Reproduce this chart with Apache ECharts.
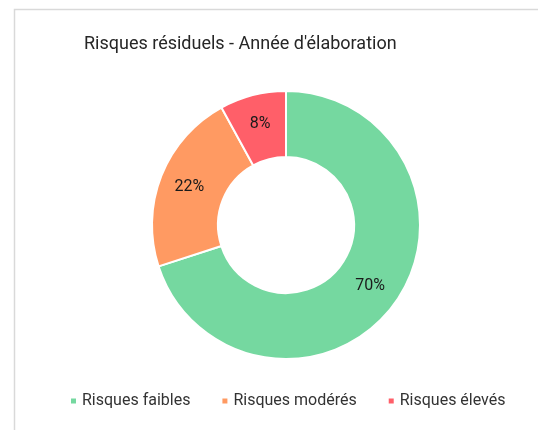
<!DOCTYPE html>
<html>
<head>
<meta charset="utf-8">
<script src="https://cdn.jsdelivr.net/npm/echarts@6/dist/echarts.min.js"></script>
<style>
  html, body { margin: 0; padding: 0; background: #fff; }
  #chart { width: 538px; height: 430px; }
</style>
</head>
<body>
<div id="chart"></div>
<script>
// Residual risk distribution for the year of preparation
const categories = ['Risques faibles', 'Risques modérés', 'Risques élevés'];
const shares = [70, 22, 8];
const colors = ['#75D8A0', '#FF9A62', '#FF5F69'];

const chart = echarts.init(document.getElementById('chart'), null, { renderer: 'canvas' });

chart.setOption({
  animation: false,
  backgroundColor: '#ffffff',
  color: colors,
  graphic: [{
    type: 'rect',
    shape: { x: 14.5, y: 9.5, width: 600, height: 500 },
    style: { fill: 'none', stroke: '#d9d9d9', lineWidth: 1.5 },
    silent: true
  }],
  title: {
    text: 'Risques résiduels - Année d\'élaboration',
    left: 84,
    top: 35,
    padding: 0,
    textStyle: { fontFamily: 'Roboto', fontSize: 18, fontWeight: 'normal', color: '#262626' }
  },
  legend: {
    left: 69,
    top: 393,
    padding: 0,
    icon: 'rect',
    itemWidth: 7,
    itemHeight: 7,
    itemGap: 30,
    textStyle: { fontFamily: 'Roboto', fontSize: 16, color: '#333333', padding: [0, 0, 0, 0] },
    data: categories
  },
  series: [{
    type: 'pie',
    center: [286, 225],
    radius: [68, 134],
    startAngle: 90,
    clockwise: true,
    avoidLabelOverlap: false,
    itemStyle: { borderColor: '#ffffff', borderWidth: 2 },
    label: {
      show: true,
      position: 'inside',
      formatter: '{c}%',
      fontFamily: 'Roboto',
      fontSize: 16,
      color: '#1a1a1a'
    },
    labelLine: { show: false },
    data: categories.map((name, i) => ({ name: name, value: shares[i] }))
  }]
});
</script>
</body>
</html>
